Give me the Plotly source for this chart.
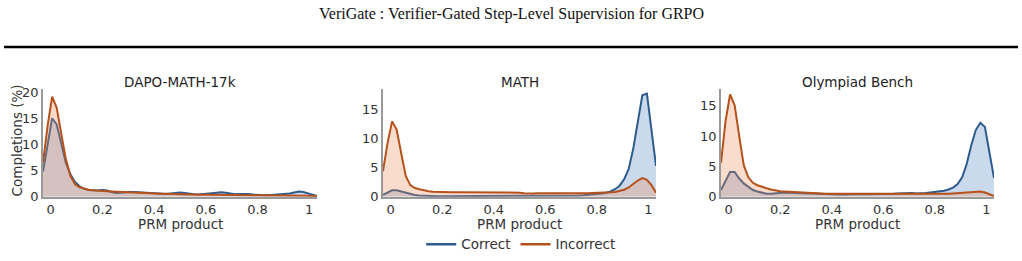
import plotly.graph_objects as go

# Shared evaluation grid (PRM product)
prm_x = [-0.03, -0.0123, 0.0053, 0.023, 0.0407, 0.0583, 0.076, 0.0937, 0.1113, 0.129,
         0.1467, 0.1643, 0.182, 0.1997, 0.2173, 0.235, 0.2527, 0.2703, 0.288, 0.3057,
         0.3233, 0.341, 0.3587, 0.3763, 0.394, 0.4117, 0.4293, 0.447, 0.4647, 0.4823,
         0.5, 0.5177, 0.5353, 0.553, 0.5707, 0.5883, 0.606, 0.6237, 0.6413, 0.659,
         0.6767, 0.6943, 0.712, 0.7297, 0.7473, 0.765, 0.7827, 0.8003, 0.818, 0.8357,
         0.8533, 0.871, 0.8887, 0.9063, 0.924, 0.9417, 0.9593, 0.977, 0.9947, 1.0123, 1.03]

panels = ["DAPO-MATH-17k", "MATH", "Olympiad Bench"]
series_names = ["Correct", "Incorrect"]

dapo_correct = [4.8, 10.0, 15.0, 13.8, 10.0, 6.5, 4.3, 2.8, 2.0, 1.5,
                1.3, 1.2, 1.2, 1.3, 1.2, 0.9, 0.7, 0.75, 0.85, 0.9,
                0.9, 0.85, 0.8, 0.7, 0.6, 0.55, 0.5, 0.5, 0.6, 0.7,
                0.8, 0.7, 0.55, 0.45, 0.4, 0.45, 0.55, 0.65, 0.75, 0.85,
                0.75, 0.55, 0.45, 0.5, 0.55, 0.5, 0.4, 0.35, 0.3, 0.3,
                0.35, 0.4, 0.45, 0.5, 0.6, 0.8, 1.0, 0.9, 0.7, 0.4, 0.15]
dapo_incorrect = [6.5, 13.5, 19.1, 17.0, 12.0, 7.2, 4.0, 2.4, 1.8, 1.5,
                  1.35, 1.25, 1.15, 1.1, 1.05, 1.0, 0.95, 0.9, 0.85, 0.8,
                  0.75, 0.72, 0.7, 0.65, 0.62, 0.6, 0.57, 0.55, 0.5, 0.48,
                  0.45, 0.45, 0.43, 0.42, 0.4, 0.4, 0.4, 0.38, 0.37, 0.36,
                  0.35, 0.35, 0.35, 0.33, 0.32, 0.3, 0.3, 0.3, 0.3, 0.3,
                  0.3, 0.3, 0.3, 0.3, 0.28, 0.25, 0.22, 0.2, 0.17, 0.13, 0.1]

math_correct = [0.3, 0.7, 1.1, 1.1, 0.9, 0.6, 0.4, 0.3, 0.2, 0.15,
                0.15, 0.12, 0.1, 0.1, 0.1, 0.1, 0.1, 0.1, 0.1, 0.1,
                0.1, 0.1, 0.1, 0.1, 0.1, 0.1, 0.1, 0.1, 0.12, 0.12,
                0.12, 0.12, 0.12, 0.12, 0.12, 0.12, 0.15, 0.15, 0.15, 0.15,
                0.15, 0.15, 0.2, 0.2, 0.25, 0.3, 0.35, 0.45, 0.55, 0.7,
                0.9, 1.3, 1.9, 3.0, 4.8, 8.3, 13.0, 17.5, 17.8, 11.5, 5.3]
math_incorrect = [4.4, 9.3, 13.0, 11.6, 7.5, 3.6, 2.0, 1.5, 1.3, 1.1,
                  0.95, 0.85, 0.8, 0.8, 0.75, 0.75, 0.75, 0.75, 0.8, 0.8,
                  0.8, 0.8, 0.8, 0.8, 0.75, 0.75, 0.75, 0.8, 0.8, 0.75,
                  0.7, 0.6, 0.55, 0.55, 0.6, 0.6, 0.6, 0.55, 0.5, 0.5,
                  0.5, 0.5, 0.55, 0.55, 0.6, 0.6, 0.65, 0.65, 0.65, 0.7,
                  0.75, 0.8, 0.95, 1.2, 1.6, 2.2, 2.8, 3.2, 2.9, 2.0, 0.7]

olym_correct = [1.1, 2.5, 4.1, 4.1, 3.0, 2.2, 1.6, 1.1, 0.85, 0.65,
                0.5, 0.5, 0.6, 0.7, 0.7, 0.65, 0.6, 0.6, 0.6, 0.55,
                0.55, 0.5, 0.5, 0.45, 0.4, 0.35, 0.35, 0.35, 0.4, 0.45,
                0.45, 0.45, 0.4, 0.4, 0.45, 0.5, 0.5, 0.5, 0.5, 0.55,
                0.6, 0.65, 0.6, 0.55, 0.55, 0.6, 0.7, 0.8, 0.85, 1.0,
                1.2, 1.5, 2.1, 3.2, 5.4, 8.5, 11.0, 12.2, 11.5, 7.3, 3.1]
olym_incorrect = [5.6, 12.5, 16.9, 15.1, 10.0, 5.2, 3.2, 2.3, 1.9, 1.6,
                  1.4, 1.2, 1.0, 0.9, 0.85, 0.8, 0.75, 0.75, 0.7, 0.7,
                  0.65, 0.6, 0.55, 0.5, 0.5, 0.5, 0.5, 0.5, 0.5, 0.45,
                  0.4, 0.4, 0.4, 0.45, 0.5, 0.5, 0.5, 0.5, 0.5, 0.5,
                  0.5, 0.5, 0.45, 0.45, 0.45, 0.45, 0.45, 0.45, 0.45, 0.5,
                  0.5, 0.55, 0.6, 0.6, 0.65, 0.7, 0.8, 0.85, 0.7, 0.4, 0.1]

data = [(dapo_correct, dapo_incorrect), (math_correct, math_incorrect), (olym_correct, olym_incorrect)]
y_max = [20.6, 18.6, 17.8]

W, H = 1022, 261
line_colors = {"Correct": "#2d5b8c", "Incorrect": "#b5521c"}
fill_colors = {"Correct": "rgba(70,120,185,0.28)", "Incorrect": "rgba(240,140,90,0.30)"}
FONT = "DejaVu Sans"
TXT = "#333333"

# pixel layout of each panel's plot area (left, right)
px_dom = [(43, 317), (383, 656), (721, 994)]
y_top_px, y_bot_px = 89, 202

fig = go.Figure()
layout_axes = {}
annotations = []
for i, (name, (corr, inc)) in enumerate(zip(panels, data)):
    idx = "" if i == 0 else str(i + 1)
    for sname, vals in zip(series_names, (corr, inc)):
        fig.add_trace(go.Scatter(
            x=prm_x, y=vals, mode="lines", name=sname,
            line=dict(color=line_colors[sname], width=2),
            fill="tozeroy", fillcolor=fill_colors[sname],
            showlegend=False,
            xaxis="x" + idx, yaxis="y" + idx, hoverinfo="skip"))
    l, r = px_dom[i]
    layout_axes["xaxis" + idx] = dict(
        domain=[l / W, r / W], range=[-0.03, 1.03], anchor="y" + idx,
        tickvals=[0, 0.2, 0.4, 0.6, 0.8, 1], ticktext=["0", "0.2", "0.4", "0.6", "0.8", "1"],
        showgrid=False, zeroline=False, showline=True, linecolor="#999999", linewidth=1.5,
        ticks="", tickfont=dict(family=FONT, size=13, color=TXT))
    layout_axes["yaxis" + idx] = dict(
        domain=[(H - y_bot_px) / H, (H - y_top_px) / H], range=[0, y_max[i]], anchor="x" + idx,
        dtick=5, showgrid=False, zeroline=False, showline=True, linecolor="#999999", linewidth=1.5,
        ticks="", tickfont=dict(family=FONT, size=13, color=TXT))
    cx = (l + r) / 2 / W
    annotations.append(dict(text=name, x=cx, y=(H - 82) / H, xref="paper", yref="paper",
                            showarrow=False, font=dict(family=FONT, size=13.5, color="#222222"),
                            xanchor="center", yanchor="middle"))
    annotations.append(dict(text="PRM product", x=cx, y=(H - 231) / H, xref="paper", yref="paper",
                            showarrow=False, font=dict(family=FONT, size=13.5, color=TXT),
                            xanchor="center", yanchor="middle"))

# legend-only entries (line symbols)
for sname in series_names:
    fig.add_trace(go.Scatter(x=[None], y=[None], mode="lines", name=sname,
                             line=dict(color=line_colors[sname], width=2.5),
                             showlegend=True, xaxis="x2", yaxis="y2"))

annotations.append(dict(text="Completions (%)", x=17 / W, y=(H - 143) / H, xref="paper", yref="paper",
                        showarrow=False, textangle=-90, font=dict(family=FONT, size=13.5, color=TXT),
                        xanchor="center", yanchor="middle"))
annotations.append(dict(text="VeriGate : Verifier-Gated Step-Level Supervision for GRPO",
                        x=0.5, y=(H - 11) / H, xref="paper", yref="paper", showarrow=False,
                        font=dict(family="Liberation Serif", size=16, color="#111111"),
                        xanchor="center", yanchor="middle"))

fig.update_layout(
    width=W, height=H, margin=dict(l=0, r=0, t=0, b=0),
    paper_bgcolor="white", plot_bgcolor="white",
    showlegend=True,
    legend=dict(orientation="h", x=0.51, xanchor="center", y=(H - 252) / H, yanchor="middle",
                font=dict(family=FONT, size=13.5, color=TXT), itemwidth=30,
                bgcolor="rgba(0,0,0,0)"),
    annotations=annotations,
    shapes=[dict(type="line", xref="paper", yref="paper", x0=4 / W, x1=1018 / W,
                 y0=(H - 45) / H, y1=(H - 45) / H, line=dict(color="black", width=2.5))],
    **layout_axes)

fig.write_html("out.html")
